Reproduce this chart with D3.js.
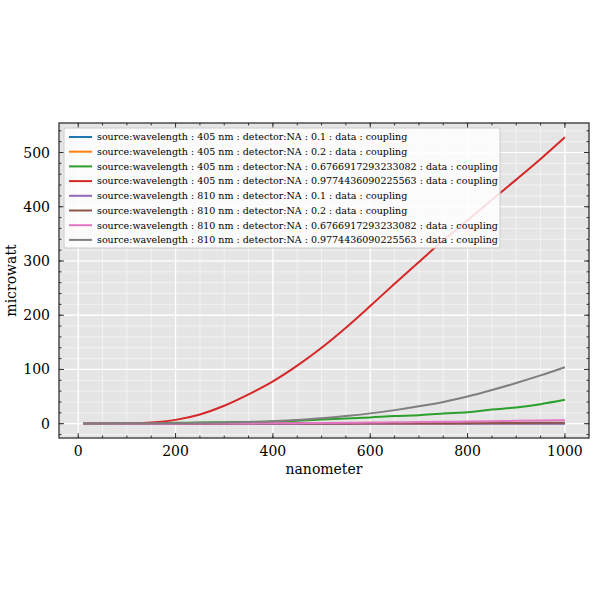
<!DOCTYPE html>
<html>
<head>
<meta charset="utf-8">
<script src="https://cdn.jsdelivr.net/npm/d3@7"></script>
<style>
  body { margin: 0; background: #fff; }
  text { font-family: "DejaVu Serif", "Liberation Serif", serif; }
</style>
</head>
<body>
<div id="chart"></div>
<script>
const xs = [10, 100, 150, 200, 250, 300, 350, 400, 450, 500, 550, 600, 650, 700, 750, 800, 850, 900, 950, 1000];
const names = [
  "source:wavelength : 405 nm : detector:NA : 0.1 : data : coupling",
  "source:wavelength : 405 nm : detector:NA : 0.2 : data : coupling",
  "source:wavelength : 405 nm : detector:NA : 0.6766917293233082 : data : coupling",
  "source:wavelength : 405 nm : detector:NA : 0.9774436090225563 : data : coupling",
  "source:wavelength : 810 nm : detector:NA : 0.1 : data : coupling",
  "source:wavelength : 810 nm : detector:NA : 0.2 : data : coupling",
  "source:wavelength : 810 nm : detector:NA : 0.6766917293233082 : data : coupling",
  "source:wavelength : 810 nm : detector:NA : 0.9774436090225563 : data : coupling"
];
const colors = ["#1f77b4", "#ff7f0e", "#2ca02c", "#d62728", "#9467bd", "#8c564b", "#e377c2", "#7f7f7f"];
const s405a = [0, 0, 0, 0, 0, 0, 0, 0.1, 0.1, 0.1, 0.1, 0.2, 0.2, 0.2, 0.2, 0.3, 0.3, 0.3, 0.4, 0.4];
const s405b = [0, 0, 0, 0, 0.1, 0.1, 0.1, 0.2, 0.2, 0.3, 0.3, 0.4, 0.4, 0.5, 0.5, 0.6, 0.7, 0.8, 0.9, 1.0];
const s405c = [0, 0.3, 0.8, 1.5, 2.2, 2.8, 3.2, 3.8, 5.5, 7.5, 9.5, 11.5, 14, 15.5, 19, 21, 26, 30, 36, 44];
const s405d = [0, 0.3, 2, 7, 17, 33, 54, 78, 107, 140, 177, 217, 258, 298, 338, 375, 413, 450, 488, 528];
const s810a = [0, 0, 0, 0, 0, 0, 0, 0.1, 0.1, 0.1, 0.1, 0.2, 0.2, 0.2, 0.3, 0.3, 0.3, 0.4, 0.4, 0.5];
const s810b = [0, 0, 0, 0, 0.1, 0.1, 0.2, 0.2, 0.3, 0.4, 0.5, 0.6, 0.7, 0.8, 0.9, 1.0, 1.2, 1.4, 1.6, 1.8];
const s810c = [0, 0, 0.1, 0.1, 0.2, 0.3, 0.5, 0.7, 1.0, 1.3, 1.7, 2.1, 2.5, 3.0, 3.5, 4.0, 4.6, 5.2, 5.8, 6.5];
const s810d = [0, 0.2, 0.5, 1, 1.6, 2.3, 3.2, 4.5, 7, 10, 14, 19, 25, 32, 40, 50, 62, 75, 89, 104];
const series = [s405a, s405b, s405c, s405d, s810a, s810b, s810c, s810d];
const xTicks = [0, 200, 400, 600, 800, 1000];
const yTicks = [0, 100, 200, 300, 400, 500];

const W = 600, H = 600;
const m = { left: 59, right: 11, top: 123, bottom: 162 };
const iw = W - m.left - m.right, ih = H - m.top - m.bottom;

const svg = d3.select("#chart").append("svg").attr("width", W).attr("height", H);
const g = svg.append("g").attr("transform", `translate(${m.left},${m.top})`);

const x = d3.scaleLinear().domain([-39.5, 1049.5]).range([0, iw]);
const y = d3.scaleLinear().domain([-26.4, 554.4]).range([ih, 0]);

g.append("rect").attr("width", iw).attr("height", ih).attr("fill", "#e5e5e5");

// minor + major grid
const xMinor = d3.range(0, 1050, 50);
const yMinor = d3.range(-20, 555, 20);
g.selectAll(".xmg").data(xMinor).join("line")
  .attr("x1", d => x(d)).attr("x2", d => x(d)).attr("y1", 0).attr("y2", ih)
  .attr("stroke", "#fff").attr("stroke-width", 0.5);
g.selectAll(".ymg").data(yMinor).join("line")
  .attr("y1", d => y(d)).attr("y2", d => y(d)).attr("x1", 0).attr("x2", iw)
  .attr("stroke", "#fff").attr("stroke-width", 0.5);
g.selectAll(".xg").data(xTicks).join("line")
  .attr("x1", d => x(d)).attr("x2", d => x(d)).attr("y1", 0).attr("y2", ih)
  .attr("stroke", "#fff").attr("stroke-width", 1.2);
g.selectAll(".yg").data(yTicks).join("line")
  .attr("y1", d => y(d)).attr("y2", d => y(d)).attr("x1", 0).attr("x2", iw)
  .attr("stroke", "#fff").attr("stroke-width", 1.2);

// inward ticks on all sides
function ticks(vals, len, isX) {
  vals.forEach(v => {
    if (isX) {
      g.append("line").attr("x1", x(v)).attr("x2", x(v)).attr("y1", ih).attr("y2", ih - len).attr("stroke", "#333");
      g.append("line").attr("x1", x(v)).attr("x2", x(v)).attr("y1", 0).attr("y2", len).attr("stroke", "#333");
    } else {
      g.append("line").attr("y1", y(v)).attr("y2", y(v)).attr("x1", 0).attr("x2", len).attr("stroke", "#333");
      g.append("line").attr("y1", y(v)).attr("y2", y(v)).attr("x1", iw).attr("x2", iw - len).attr("stroke", "#333");
    }
  });
}
ticks(xMinor, 2.5, true); ticks(yMinor, 2.5, false);
ticks(xTicks, 5, true); ticks(yTicks, 5, false);

const line = d3.line().x((d, i) => x(xs[i])).y(d => y(d)).curve(d3.curveMonotoneX);
series.forEach((s, k) => {
  g.append("path").datum(s).attr("d", line).attr("fill", "none")
    .attr("stroke", colors[k]).attr("stroke-width", 2);
});

g.append("rect").attr("width", iw).attr("height", ih).attr("fill", "none").attr("stroke", "#222").attr("stroke-width", 1.2);

g.selectAll(".xl").data(xTicks).join("text")
  .attr("x", d => x(d)).attr("y", ih + 18).attr("text-anchor", "middle")
  .attr("font-size", 14).text(d => d);
g.selectAll(".yl").data(yTicks).join("text")
  .attr("x", -9).attr("y", d => y(d) + 5).attr("text-anchor", "end")
  .attr("font-size", 14).text(d => d);
g.append("text").attr("x", iw / 2).attr("y", ih + 36).attr("text-anchor", "middle")
  .attr("font-size", 14).text("nanometer");
g.append("text").attr("transform", `translate(-43,${ih / 2}) rotate(-90)`)
  .attr("text-anchor", "middle").attr("font-size", 14).text("microwatt");

// legend
const lg = g.append("g").attr("transform", "translate(5,5)");
lg.append("rect").attr("width", 436).attr("height", 120).attr("rx", 2)
  .attr("fill", "#fff").attr("fill-opacity", 0.85).attr("stroke", "#ccc");
names.forEach((n, i) => {
  const yy = 9 + i * 14.7;
  lg.append("line").attr("x1", 5).attr("x2", 28).attr("y1", yy).attr("y2", yy)
    .attr("stroke", colors[i]).attr("stroke-width", 2);
  lg.append("text").attr("x", 33).attr("y", yy + 3.3).attr("font-size", 9.5).text(n);
});
</script>
</body>
</html>
